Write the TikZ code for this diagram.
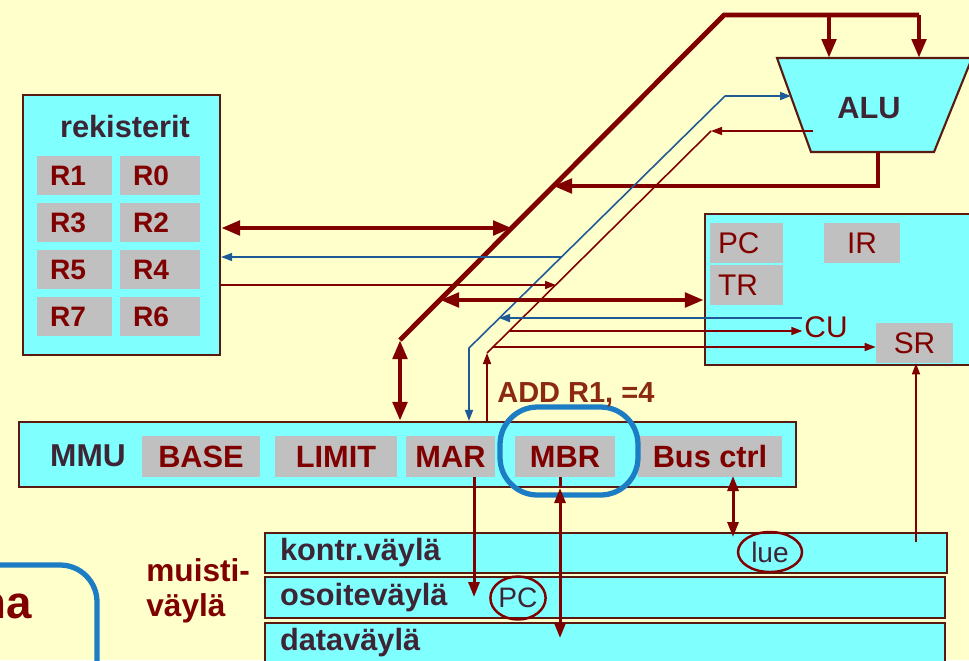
\documentclass[tikz,border=0pt]{standalone}
\usepackage{fontspec}
\setmainfont{Liberation Sans}
\usetikzlibrary{arrows.meta, positioning, shapes.geometric, calc}

\definecolor{bgyellow}{HTML}{FFFFCC}
\definecolor{unitcyan}{HTML}{80FFFF}
\definecolor{cellgray}{HTML}{C0C0C0}
\definecolor{darkred}{HTML}{800000}
\definecolor{labeldark}{HTML}{3D2535}
\definecolor{addbrown}{HTML}{8B2A10}
\definecolor{wireblue}{HTML}{1F5A96}
\definecolor{ringblue}{HTML}{1C7CC4}
\definecolor{frameline}{HTML}{5A1A10}

\begin{document}
\begin{tikzpicture}[x=0.02cm, y=-0.02cm,
    BigHead/.tip={Triangle[length=0.38cm, width=0.28cm]},
    MidHead/.tip={Triangle[length=0.3cm, width=0.22cm]},
    SmallHead/.tip={Triangle[length=0.22cm, width=0.16cm]},
    unit/.style={draw=frameline, line width=1.2pt, fill=unitcyan},
    regcell/.style={fill=cellgray, text=darkred, minimum height=0.78cm, inner xsep=0.26cm,
      inner ysep=0pt, align=left, font=\bfseries\fontsize{16}{18}\selectfont},
    cell/.style={fill=cellgray, text=darkred, minimum height=0.82cm, inner sep=0pt,
      font=\bfseries\fontsize{17.5}{20}\selectfont},
    ctrlcell/.style={fill=cellgray, text=darkred, minimum height=0.8cm, inner sep=0pt,
      font=\fontsize{17}{19}\selectfont},
    heading/.style={text=labeldark, font=\bfseries\fontsize{17.5}{20}\selectfont},
    bar/.style={unit, text=labeldark, align=left, inner xsep=0.3cm, inner ysep=0pt,
      font=\bfseries\fontsize{17.5}{20}\selectfont},
    ringmark/.style={ellipse, draw=darkred, line width=1.4pt, inner sep=0pt, text=labeldark,
      font=\fontsize{16}{18}\selectfont},
    bigbus/.style={darkred, line width=2.8pt},
    midbus/.style={darkred, line width=1.7pt},
    redwire/.style={darkred, line width=0.9pt},
    bluewire/.style={wireblue, line width=0.9pt}
  ]
  \useasboundingbox (0,0) rectangle (969,660);
  \fill[bgyellow] (0,0) rectangle (969,660);

  % registers
  \node[unit, minimum width=3.94cm, minimum height=5.2cm] (regs) at (121.5,225) {};
  \node[heading] (regtitle) at (125,127) {rekisterit};
  \foreach \l/\r [count=\i] in {R1/R0, R3/R2, R5/R4, R7/R6} {
    \node[regcell, text width=0.98cm] (reg\l) at (74.5,128.5+47*\i) {\l};
    \node[regcell, text width=1.08cm] (reg\r) at (160,128.5+47*\i) {\r};
  }

  % ALU
  \coordinate (aluTL) at (777,58);
  \coordinate (aluTR) at (972,58);
  \coordinate (aluBR) at (934,152);
  \coordinate (aluBL) at (811,152);
  \draw[unit] (aluTL) -- (aluTR) -- (aluBR) -- (aluBL) -- cycle;
  \node[heading] (alu) at (869,108) {ALU};

  % control unit
  \node[unit, minimum width=5.8cm, minimum height=3.02cm] (ctrl) at (850,289.5) {};
  \node[ctrlcell, minimum width=1.46cm, text width=1.14cm, inner xsep=0.16cm, align=left]
    (pc) at (746.5,243) {PC};
  \node[ctrlcell, minimum width=1.52cm] (ir) at (862,243) {IR};
  \node[ctrlcell, minimum width=1.46cm, text width=1.14cm, inner xsep=0.16cm, align=left]
    (tr) at (746.5,285) {TR};
  \node[ctrlcell, minimum width=1.54cm] (sr) at (914.5,343) {SR};
  \node[text=darkred, inner sep=1pt, font=\fontsize{17}{19}\selectfont] (cu) at (826,327) {CU};

  % MMU
  \node[unit, minimum width=15.54cm, minimum height=1.3cm] (mmu) at (407.5,454.5) {};
  \node[heading, font=\bfseries\fontsize{18}{20}\selectfont] (mmulabel) at (88,456) {MMU};
  \node[cell, minimum width=2.36cm] (base) at (201,456.5) {BASE};
  \node[cell, minimum width=2.44cm] (limit) at (336,456.5) {LIMIT};
  \node[cell, minimum width=1.78cm] (mar) at (450.5,456.5) {MAR};
  \node[cell, minimum width=2.0cm] (mbr) at (565,456.5) {MBR};
  \node[cell, minimum width=2.88cm] (busctrl) at (710,456.5) {Bus ctrl};
  \node[draw=ringblue, line width=3pt, rounded corners=0.75cm,
    minimum width=2.76cm, minimum height=1.76cm] (ring) at (569,451) {};
  \node[anchor=west, text=addbrown, inner sep=0pt,
    font=\bfseries\fontsize{16.5}{18}\selectfont] (addtext) at (497,395) {ADD R1, =4};

  % memory bus
  \node[bar, text width=13.04cm, minimum height=0.8cm] (kontr) at (606,553) {kontr.väylä};
  \node[bar, text width=13.0cm, minimum height=0.82cm] (osoite) at (605,597.5) {osoiteväylä};
  \node[bar, text width=13.0cm, minimum height=0.8cm] (data) at (605,643) {dataväylä};
  \node[anchor=west, text=darkred, inner sep=0pt,
    font=\bfseries\fontsize{18}{20}\selectfont] (muisti) at (146,570) {muisti-};
  \node[anchor=west, text=darkred, inner sep=0pt,
    font=\bfseries\fontsize{18}{20}\selectfont] (vayla) at (146,608) {väylä};
  \node[ringmark, minimum width=1.28cm, minimum height=0.8cm] (lue) at (770,552) {lue};
  \node[ringmark, minimum width=0.98cm, minimum height=0.86cm] (pcmark) at (518,598) {PC};

  % corner box
  \draw[ringblue, line width=3pt, rounded corners=0.74cm] (-30,565) -- (97,565) -- (97,700);
  \node[anchor=base east, text=darkred, inner sep=0pt,
    font=\bfseries\fontsize{26}{30}\selectfont] (nalabel) at (32,618) {na};

  % internal bus
  \coordinate (busTop) at (724,15);
  \coordinate (busRight) at (919,15);
  \coordinate (busLow) at (400,340);
  \coordinate (aluInA) at (829,58);
  \coordinate (aluOut) at (878,152);
  \coordinate (jOut) at (553,186);
  \draw[bigbus] (busLow) -- (busTop) -- (busRight);
  \draw[bigbus, -BigHead] (aluInA |- busTop) -- (aluInA);
  \draw[bigbus, -BigHead] (busRight) -- (busRight |- aluTR);
  \draw[bigbus, -BigHead] (aluOut) -- (aluOut |- jOut) -- (jOut);
  \draw[bigbus, BigHead-BigHead] (busLow) -- (busLow |- mmu.north);

  % control lines
  \coordinate (blueTop) at (725,96);
  \coordinate (blueLow) at (469,348);
  \coordinate (aluInB) at (791,96);
  \draw[bluewire, -SmallHead] (blueTop) -- (aluInB);
  \draw[bluewire, -SmallHead] (blueTop) -- (blueLow) -- (blueLow |- mmu.north);

  \coordinate (redTop) at (711,131);
  \coordinate (redLow) at (487,353);
  \coordinate (aluOutB) at (813,131);
  \draw[redwire, -SmallHead] (aluOutB) -- (redTop);
  \draw[redwire] (redTop) -- (redLow);
  \draw[redwire, -SmallHead] (redLow |- mmu.north) -- (redLow);

  % branches
  \coordinate (jA) at (512,228);
  \coordinate (jB) at (561,257);
  \coordinate (jC) at (556,285);
  \coordinate (jD) at (440,300);
  \coordinate (jE) at (499,318);
  \coordinate (jF) at (509,331);
  \coordinate (jG) at (493,347);
  \draw[bigbus, BigHead-BigHead] (regs.east |- jA) -- (jA);
  \draw[bluewire, -SmallHead] (jB) -- (regs.east |- jB);
  \draw[redwire, -SmallHead] (regs.east |- jC) -- (jC);
  \draw[bigbus, BigHead-BigHead] (jD) -- (ctrl.west |- jD);
  \draw[bluewire, -SmallHead] (cu.west |- jE) -- (jE);
  \draw[redwire, -SmallHead] (jF) -- (cu.west |- jF);
  \draw[redwire, -SmallHead] (jG) -- (sr.west |- jG);
  \coordinate (srFeed) at (916,542);
  \draw[redwire, -SmallHead] (srFeed) -- (srFeed |- sr.south);

  % memory side
  \coordinate (marDrop) at (474,597);
  \coordinate (mbrDrop) at (560,638);
  \coordinate (bcDrop) at (733,476);
  \draw[midbus, -MidHead] (marDrop |- mar.south) -- (marDrop);
  \draw[midbus] (mbrDrop |- mbr.south) -- (mbrDrop |- mmu.south);
  \draw[midbus, MidHead-MidHead] (mbrDrop |- mmu.south) -- (mbrDrop);
  \draw[midbus, MidHead-MidHead] (bcDrop) -- (bcDrop |- lue.north west);
\end{tikzpicture}
\end{document}
